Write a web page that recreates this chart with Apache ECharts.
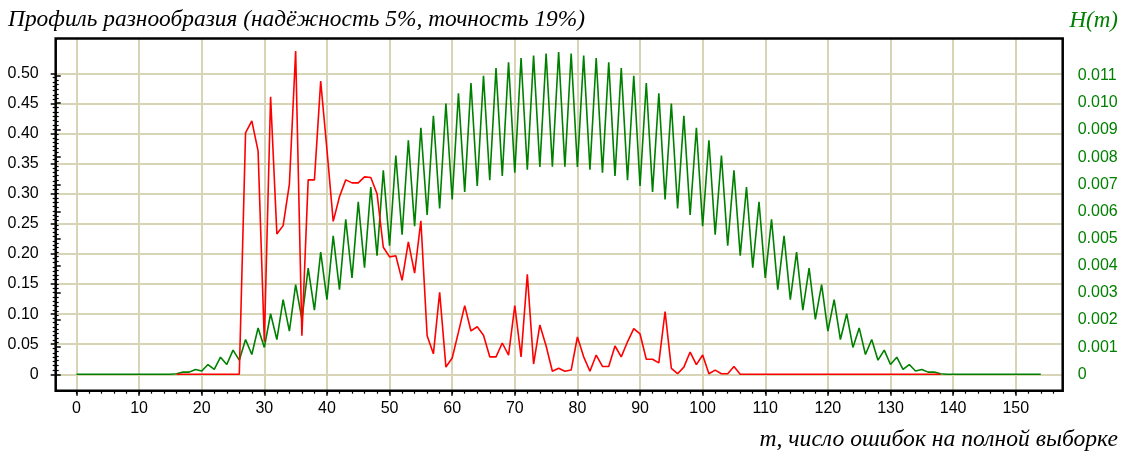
<!DOCTYPE html>
<html><head><meta charset="utf-8">
<script src="https://cdn.jsdelivr.net/npm/echarts@6/dist/echarts.min.js"></script>
<style>html,body{margin:0;padding:0;background:#fff}#c{width:1130px;height:452px}</style>
</head><body><div id="c"></div>
<script>
// m = 0 .. 154 (index of each value)
const greenH = [
 0,0,0,0,0,0,0,0,0,0,
 0,0,0,0,0,0,0.00002,0.00008,0.00008,0.00018,
 0.00012,0.00036,0.00018,0.00063,0.00036,0.00089,0.00052,0.00128,0.00073,0.00171,
 0.00099,0.00223,0.00128,0.00275,0.00159,0.00330,0.00202,0.00391,0.00236,0.00450,
 0.00275,0.00510,0.00312,0.00571,0.00355,0.00635,0.00393,0.00690,0.00437,0.00751,
 0.00474,0.00806,0.00514,0.00862,0.00546,0.00908,0.00587,0.00952,0.00611,0.00997,
 0.00644,0.01035,0.00672,0.01073,0.00694,0.01100,0.00715,0.01128,0.00731,0.01149,
 0.00743,0.01165,0.00754,0.01174,0.00764,0.01182,0.00765,0.01187,0.00765,0.01182,
 0.00764,0.01174,0.00754,0.01165,0.00743,0.01149,0.00731,0.01128,0.00715,0.01100,
 0.00694,0.01073,0.00672,0.01035,0.00644,0.00997,0.00611,0.00952,0.00587,0.00908,
 0.00546,0.00862,0.00514,0.00806,0.00474,0.00751,0.00437,0.00690,0.00393,0.00635,
 0.00355,0.00571,0.00312,0.00510,0.00275,0.00450,0.00236,0.00391,0.00202,0.00330,
 0.00159,0.00275,0.00128,0.00223,0.00099,0.00171,0.00073,0.00128,0.00052,0.00089,
 0.00036,0.00063,0.00018,0.00036,0.00012,0.00018,0.00008,0.00008,0.00002,0,
 0,0,0,0,0,0,0,0,0,0,
 0,0,0,0,0
];
// diversity profile, defined for m = 16 .. 138
const redStartM = 16;
const redProfile = [
 0,0,0,0,0,0,0,0,0,0,0,                         // 16-26
 0.401,0.421,0.371,0.054,0.461,0.233,0.247,0.316, // 27-34
 0.537,0.064,0.323,0.323,0.487,0.373,0.254,0.295, // 35-42
 0.323,0.318,0.318,0.328,0.327,0.300,0.211,0.195, // 43-50
 0.197,0.156,0.220,0.168,0.255,0.064,0.034,0.136, // 51-58
 0.012,0.027,0.070,0.114,0.072,0.079,0.065,0.029, // 59-66
 0.029,0.052,0.032,0.114,0.029,0.166,0.017,0.082, // 67-74
 0.047,0.005,0.010,0.005,0.007,0.062,0.029,0.005, // 75-82
 0.032,0.013,0.013,0.047,0.029,0.054,0.076,0.067, // 83-90
 0.025,0.025,0.019,0.104,0.010,0.001,0.012,0.037, // 91-98
 0.016,0.032,0.001,0.007,0.001,0.001,0.013,0,     // 99-106
 0,0,0,0,0,0,0,0,0,0,0,0,0,0,0,0,                 // 107-122
 0,0,0,0,0,0,0,0,0,0,0,0,0,0,0,0                  // 123-138
];
const titleText = 'Профиль разнообразия (надёжность 5%, точность 19%)';
const rightAxisName = 'H(m)';
const xAxisName = 'm, число ошибок на полной выборке';

const greenData = greenH.map((v, i) => [i, v]);
const redData = redProfile.map((v, i) => [redStartM + i, v]);

const GRID = '#d8d5b6';
const box = {left: 55.7, right: 1062.7, top: 38.5, bottom: 390.7};
const W = 1130, H = 452;
const xAt = m => 76.5 + 6.2615 * m;

const hidden = (g) => ({gridIndex: g, type: 'value', min: 0, max: 1, show: false});

const chart = echarts.init(document.getElementById('c'), null, {renderer: 'canvas'});
chart.setOption({
  animation: false,
  backgroundColor: '#fff',
  grid: [
    {left: box.left, right: W - box.right, top: box.top, bottom: H - box.bottom},          // data
    {left: xAt(0), right: W - xAt(150), top: box.top, bottom: H - box.bottom},              // x major
    {left: xAt(0), right: W - xAt(156), top: box.top, bottom: H - box.bottom},              // x minor
    {left: box.left, right: W - box.right, top: 73.3, bottom: H - 374.3},                   // y left
    {left: box.left, right: W - box.right, top: 75.7, bottom: H - 374.3}                    // y right
  ],
  xAxis: [
    {gridIndex: 0, type: 'value', min: -3.32, max: 157.5, show: false},
    {gridIndex: 1, type: 'value', min: 0, max: 150, interval: 10, position: 'bottom',
     axisLine: {show: false},
     axisTick: {show: true, length: 5, lineStyle: {color: '#000', width: 1.5}},
     axisLabel: {show: true, margin: 10, fontSize: 16, color: '#000', fontFamily: 'Liberation Sans'},
     splitLine: {show: true, lineStyle: {color: GRID, width: 2}}},
    {gridIndex: 2, type: 'value', min: 0, max: 156, interval: 2, position: 'bottom',
     axisLine: {show: false},
     axisTick: {show: true, length: 3, lineStyle: {color: '#000', width: 1.2}},
     axisLabel: {show: false}, splitLine: {show: false}},
    hidden(3), hidden(4)
  ],
  yAxis: [
    {gridIndex: 0, type: 'value', min: -0.02724, max: 0.5578, show: false},
    {gridIndex: 0, type: 'value', min: -0.000604, max: 0.01237, show: false},
    hidden(1), hidden(2),
    {gridIndex: 3, type: 'value', min: 0, max: 0.5, interval: 0.05, position: 'left',
     axisLine: {show: false},
     axisTick: {show: true, length: 5, lineStyle: {color: '#000', width: 1.5}},
     minorTick: {show: true, splitNumber: 7, length: 3, lineStyle: {color: '#000', width: 1.2}},
     axisLabel: {show: true, margin: 17, fontSize: 16, color: '#000', fontFamily: 'Liberation Sans',
       formatter: v => v === 0 ? '0' : v.toFixed(2)},
     splitLine: {show: true, lineStyle: {color: GRID, width: 2}}},
    {gridIndex: 4, type: 'value', min: 0, max: 0.011, interval: 0.001, position: 'right',
     axisLine: {show: false},
     axisTick: {show: true, length: 5, lineStyle: {color: '#000', width: 1.5}},
     minorTick: {show: true, splitNumber: 6, length: 3, lineStyle: {color: '#000', width: 1.2}},
     axisLabel: {show: true, margin: 15, fontSize: 16, color: '#008000', fontFamily: 'Liberation Sans',
       formatter: v => v === 0 ? '0' : v.toFixed(3)},
     splitLine: {show: false}}
  ],
  series: [
    {type: 'line', name: 'H(m)', xAxisIndex: 0, yAxisIndex: 1, data: greenData,
     showSymbol: false, symbol: 'none', lineStyle: {color: '#008000', width: 1.6}, z: 3},
    {type: 'line', name: 'profile', xAxisIndex: 0, yAxisIndex: 0, data: redData,
     showSymbol: false, symbol: 'none', lineStyle: {color: '#ff0000', width: 1.6}, z: 4}
  ],
  graphic: [
    {type: 'rect', z: 100, silent: true,
     shape: {x: box.left, y: box.top, width: box.right - box.left, height: box.bottom - box.top},
     style: {fill: 'none', stroke: '#000', lineWidth: 2.5}},
    {type: 'text', z: 100, x: 8, y: 20,
     style: {text: titleText, fill: '#000', font: 'italic 23.4px "Liberation Serif"', textVerticalAlign: 'middle'}},
    {type: 'text', z: 100, x: 1118, y: 20.5,
     style: {text: rightAxisName, fill: '#008000', font: 'italic 23px "Liberation Serif"', textAlign: 'right', textVerticalAlign: 'middle'}},
    {type: 'text', z: 100, x: 1118, y: 440,
     style: {text: xAxisName, fill: '#000', font: 'italic 23.6px "Liberation Serif"', textAlign: 'right', textVerticalAlign: 'middle'}}
  ]
});
</script></body></html>
